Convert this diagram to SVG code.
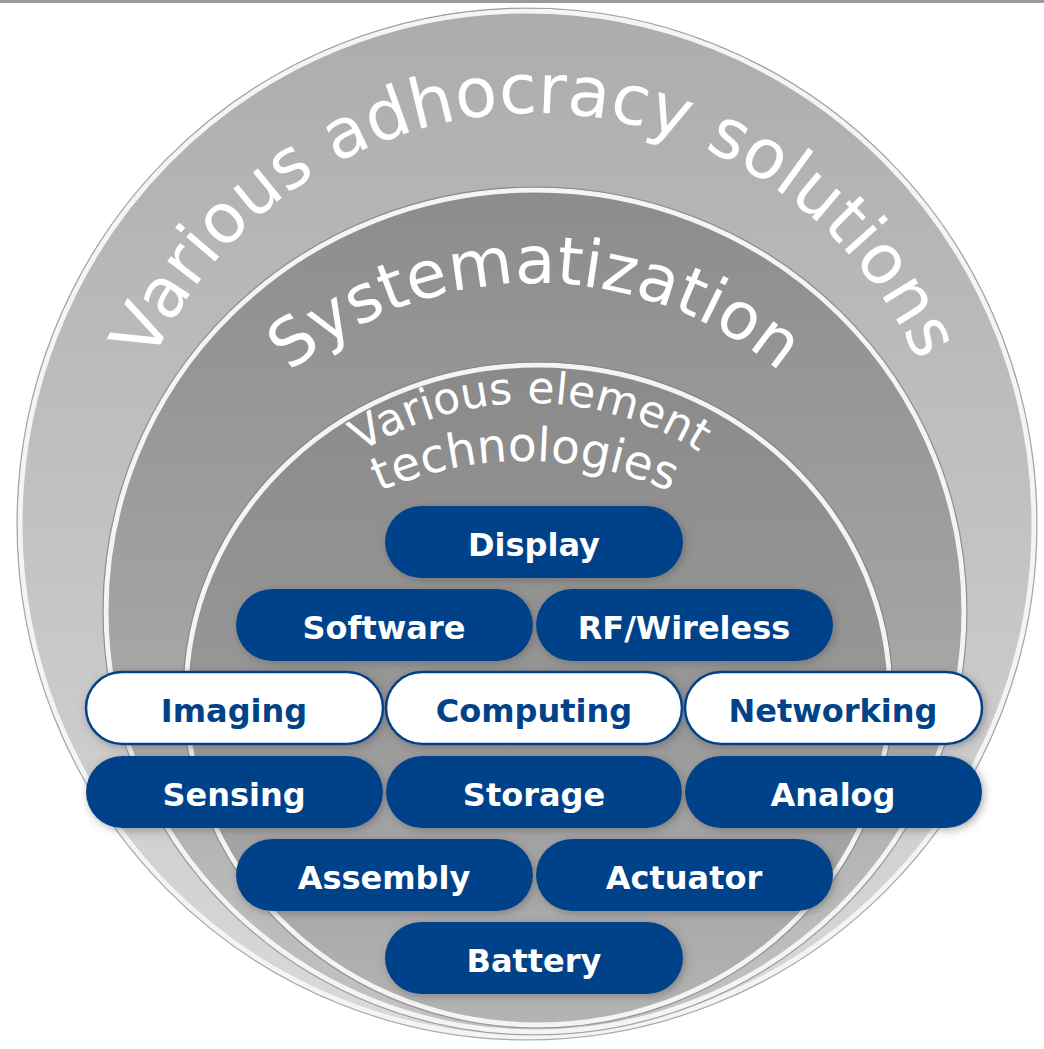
<svg xmlns="http://www.w3.org/2000/svg" width="1044" height="1049" viewBox="0 0 1044 1049">
<style>
.pill{fill:#004389;filter:url(#sh)}
.pillw{fill:#ffffff;stroke:#004389;stroke-width:2.5;filter:url(#sh)}
.pt{font-family:"DejaVu Sans","Verdana",sans-serif;font-weight:bold;font-size:32px;text-anchor:middle;fill:#ffffff}
.ptb{font-family:"DejaVu Sans","Verdana",sans-serif;font-weight:bold;font-size:32px;text-anchor:middle;fill:#004389}
.arc{font-family:"DejaVu Sans","Verdana",sans-serif;fill:#ffffff;text-anchor:middle}
.rimw{fill:none;stroke:#f4f4f4;stroke-width:5}
.rimd{fill:none;stroke:#7a7a7a;stroke-width:1.2;opacity:0.6}
</style>
<defs>
<linearGradient id="g1" x1="0" y1="0" x2="0" y2="1">
<stop offset="0" stop-color="#acacac"/><stop offset="0.5" stop-color="#c2c2c2"/><stop offset="1" stop-color="#dadada"/>
</linearGradient>
<linearGradient id="g2" x1="0" y1="0" x2="0" y2="1">
<stop offset="0" stop-color="#8c8c8c"/><stop offset="0.5" stop-color="#a2a2a2"/><stop offset="1" stop-color="#c4c4c4"/>
</linearGradient>
<linearGradient id="g3" x1="0" y1="0" x2="0" y2="1">
<stop offset="0" stop-color="#8a8a8a"/><stop offset="0.5" stop-color="#979797"/><stop offset="1" stop-color="#b4b4b4"/>
</linearGradient>
<filter id="sh" x="-10%" y="-30%" width="120%" height="160%">
<feDropShadow dx="2" dy="2" stdDeviation="4" flood-color="#555555" flood-opacity="0.5"/>
</filter>
<path id="p1" d="M 116 532 A 419 419 0 0 1 954 532"/>
<path id="p2" d="M 153 665 A 382 382 0 0 1 917 665"/>
<path id="p3" d="M 215 718 A 315 315 0 0 1 845 718"/>
<path id="p4" d="M 165 821 A 360 360 0 0 1 885 821"/>
</defs>
<rect x="0" y="0" width="1044" height="1049" fill="#ffffff"/>
<rect x="0" y="0" width="1044" height="3" fill="#9a9a9a"/>
<g id="ring-outer">
<ellipse cx="527" cy="524" rx="510" ry="516" fill="url(#g1)"/>
<ellipse cx="527" cy="524" rx="507" ry="513" class="rimw"/>
<ellipse cx="527" cy="524" rx="510" ry="516" class="rimd"/>
<text class="arc" font-size="69"><textPath href="#p1" startOffset="50%">Various adhocracy solutions</textPath></text>
</g>
<g id="ring-middle">
<ellipse cx="535" cy="611" rx="432" ry="424" fill="url(#g2)"/>
<ellipse cx="535" cy="611" rx="429" ry="421" class="rimw"/>
<ellipse cx="535" cy="611" rx="432" ry="424" class="rimd"/>
<text class="arc" font-size="66"><textPath href="#p2" startOffset="50%">Systematization</textPath></text>
</g>
<g id="ring-inner">
<ellipse cx="538" cy="695" rx="355" ry="333" fill="url(#g3)"/>
<ellipse cx="538" cy="695" rx="352" ry="330" class="rimw"/>
<ellipse cx="538" cy="695" rx="355" ry="333" class="rimd"/>
<text class="arc" font-size="44"><textPath href="#p3" startOffset="50%">Various element</textPath></text>
<text class="arc" font-size="47"><textPath href="#p4" startOffset="50%">technologies</textPath></text>
</g>
<g id="display"><rect class="pill" x="385" y="506" width="298" height="72" rx="36"/><text class="pt" x="534" y="556">Display</text></g>
<g id="software"><rect class="pill" x="236" y="589" width="297" height="72" rx="36"/><text class="pt" x="384" y="639">Software</text></g>
<g id="rf-wireless"><rect class="pill" x="536" y="589" width="297" height="72" rx="36"/><text class="pt" x="684" y="639">RF/Wireless</text></g>
<g id="imaging"><rect class="pillw" x="86" y="672" width="297" height="72" rx="36"/><text class="ptb" x="234" y="722">Imaging</text></g>
<g id="computing"><rect class="pillw" x="386" y="672" width="296" height="72" rx="36"/><text class="ptb" x="534" y="722">Computing</text></g>
<g id="networking"><rect class="pillw" x="685" y="672" width="297" height="72" rx="36"/><text class="ptb" x="833" y="722">Networking</text></g>
<g id="sensing"><rect class="pill" x="86" y="756" width="297" height="72" rx="36"/><text class="pt" x="234" y="806">Sensing</text></g>
<g id="storage"><rect class="pill" x="386" y="756" width="296" height="72" rx="36"/><text class="pt" x="534" y="806">Storage</text></g>
<g id="analog"><rect class="pill" x="685" y="756" width="297" height="72" rx="36"/><text class="pt" x="833" y="806">Analog</text></g>
<g id="assembly"><rect class="pill" x="236" y="839" width="297" height="72" rx="36"/><text class="pt" x="384" y="889">Assembly</text></g>
<g id="actuator"><rect class="pill" x="536" y="839" width="297" height="72" rx="36"/><text class="pt" x="684" y="889">Actuator</text></g>
<g id="battery"><rect class="pill" x="385" y="922" width="298" height="72" rx="36"/><text class="pt" x="534" y="972">Battery</text></g>
<g id="connectors"></g>
</svg>
